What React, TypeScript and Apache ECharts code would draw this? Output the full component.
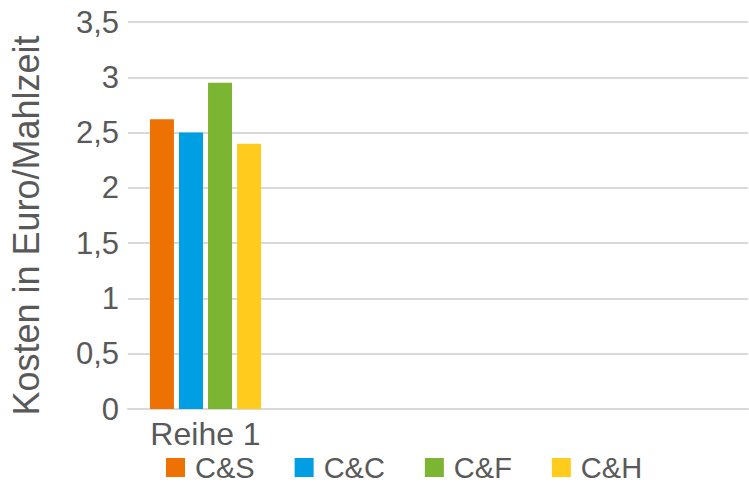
import React, { useEffect, useRef } from "react";
import * as echarts from "echarts";

const categories = ["Reihe 1", "", "", ""];
const seriesNames = ["C&S", "C&C", "C&F", "C&H"];
const seriesValues = [[2.62], [2.5], [2.95], [2.4]];
const seriesColors = ["#EE7203", "#009FE3", "#7CB532", "#FFCC1E"];
const yTicks = { min: 0, max: 3.5, interval: 0.5 };
const yAxisTitle = "Kosten in Euro/Mahlzeit";

const FONT = "'Liberation Sans', Arial, sans-serif";
const TEXT = "#595959";

export default function App() {
  const ref = useRef<HTMLDivElement>(null);
  useEffect(() => {
    if (!ref.current) return;
    const chart = echarts.init(ref.current, undefined, { renderer: "svg" });
    chart.setOption({
      animation: false,
      textStyle: { fontFamily: FONT },
      grid: { left: 128, right: 1, top: 22, bottom: 73 },
      legend: {
        left: 166,
        top: 453,
        padding: 0,
        itemWidth: 19,
        itemHeight: 19,
        itemGap: 40,
        icon: "rect",
        textStyle: { fontSize: 29, lineHeight: 24, color: TEXT, fontFamily: FONT, padding: [0, 0, 0, 5] },
        data: seriesNames,
      },
      xAxis: {
        type: "category",
        data: categories,
        axisLine: { lineStyle: { color: "#D9D9D9", width: 2 } },
        axisTick: { show: false },
        axisLabel: { fontSize: 32, color: TEXT, margin: 9, fontFamily: FONT },
      },
      yAxis: {
        type: "value",
        min: yTicks.min,
        max: yTicks.max,
        interval: yTicks.interval,
        name: yAxisTitle,
        nameLocation: "middle",
        nameGap: 84,
        nameTextStyle: { fontSize: 36, color: TEXT, fontFamily: FONT, padding: [0, 20, 0, 0] },
        axisLine: { show: false },
        axisTick: { show: false },
        axisLabel: {
          fontSize: 31,
          color: TEXT,
          margin: 9,
          fontFamily: FONT,
          formatter: (v: number) => String(v).replace(".", ","),
        },
        splitLine: { lineStyle: { color: "#D9D9D9", width: 2 } },
      },
      series: seriesNames.map((name, i) => ({
        name,
        type: "bar",
        data: seriesValues[i],
        barWidth: 24,
        barGap: "21%",
        itemStyle: { color: seriesColors[i] },
      })),
    });
    return () => chart.dispose();
  }, []);
  return <div ref={ref} style={{ width: 749, height: 482, position: "absolute", left: 0, top: 0 }} />;
}
